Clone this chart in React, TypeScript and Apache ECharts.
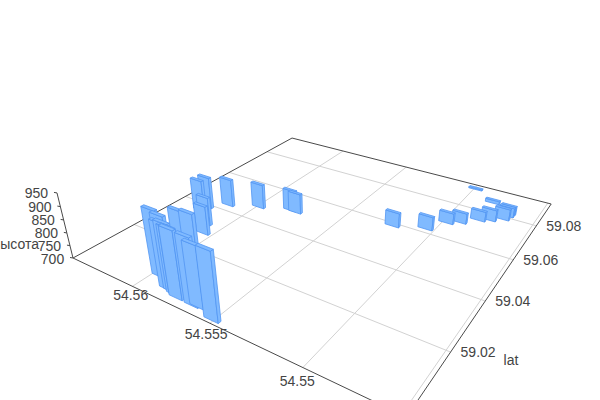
import React, { useEffect, useRef } from "react";
import * as echarts from "echarts";

// Data
const lngs = [54.5551, 54.5563, 54.5566, 54.5576, 54.5585, 54.5582, 54.5579, 54.5577, 54.5589, 54.5596, 54.5585, 54.5579, 54.5606, 54.5612, 54.5626, 54.5625, 54.5616, 54.5599, 54.5581, 54.5577, 54.5522, 54.5505, 54.5498, 54.5492, 54.5484, 54.5479, 54.5473, 54.5472, 54.5472, 54.5484, 54.5499];
const lats = [59.0009, 59.0026, 59.0023, 59.0024, 59.0036, 59.0035, 59.003, 59.0028, 59.0056, 59.0063, 59.0093, 59.0098, 59.0269, 59.031, 59.036, 59.0385, 59.0428, 59.0467, 59.0502, 59.05, 59.0583, 59.0618, 59.068, 59.0702, 59.0742, 59.0759, 59.0784, 59.0808, 59.0823, 59.0862, 59.0919];
const heights = [950, 928, 949, 950, 945, 950, 945, 948, 948, 950, 950, 950, 816, 815, 830, 831, 814, 801, 787, 783, 759, 755, 745, 743, 741, 747, 747, 739, 735, 713, 705];

const lngTicks = [54.55, 54.555, 54.56];
const latTicks = [59.02, 59.04, 59.06, 59.08];
const heightTicks = [700, 750, 800, 850, 900, 950];
const lngEdgeLine = 54.5456;

// Axis extents
const LNG_MAX = 54.5645;
const LNG_PER_S = 0.0644;
const LAT_MIN = 59;
const LAT_PER_T = 0.2099;
const Z_MIN = 700;
const Z_PER_Q = -250 / 0.0602;
const LNG_END = 54.5454;
const LAT_END = 59.095;
const Z_END = 950;

// Camera: vanishing points of the three axes, and the corner of the box
const VP_LNG = [-718, -119];
const VP_LAT = [776, -127];
const VP_Z = [323, 1274];
const ORIGIN = [73, 258];

function project(lng: number, lat: number, z: number) {
  const s = (lng - LNG_MAX) / LNG_PER_S;
  const t = (lat - LAT_MIN) / LAT_PER_T;
  const q = (z - Z_MIN) / Z_PER_Q;
  const w = 1 + s + t + q;
  return [
    (ORIGIN[0] + s * VP_LNG[0] + t * VP_LAT[0] + q * VP_Z[0]) / w,
    (ORIGIN[1] + s * VP_LNG[1] + t * VP_LAT[1] + q * VP_Z[1]) / w,
    w,
  ];
}

const BAR_LNG = 0.00085;
const BAR_LAT = 0.0009;
const FILL = "#80baff";
const EDGE = "#5296f2";
const AXIS = "#4a4a4a";
const GRID = "#d2d2d2";
const TEXT = "#444444";
const FONT = '14px "Liberation Sans", Arial, sans-serif';

function line(a: number[], b: number[], color: string) {
  return {
    type: "line",
    z: 0,
    silent: true,
    shape: { x1: a[0], y1: a[1], x2: b[0], y2: b[1] },
    style: { stroke: color, lineWidth: 1 },
  };
}

function label(text: string, x: number, y: number, align = "center") {
  return {
    type: "text",
    z: 10,
    silent: true,
    style: { text, x, y, fill: TEXT, font: FONT, textAlign: align, textVerticalAlign: "middle" },
  };
}

function buildGraphic() {
  const els: any[] = [];
  // floor grid
  [...lngTicks, lngEdgeLine].forEach((v) =>
    els.push(line(project(v, LAT_MIN, Z_MIN), project(v, LAT_END, Z_MIN), GRID))
  );
  latTicks.forEach((v) =>
    els.push(line(project(LNG_END, v, Z_MIN), project(LNG_MAX, v, Z_MIN), GRID))
  );
  // box lines
  const a = project(LNG_MAX, LAT_MIN, Z_MIN);
  const b = project(LNG_MAX, LAT_END, Z_MIN);
  const c = project(LNG_END, LAT_END, Z_MIN);
  const d = project(LNG_END, LAT_MIN, Z_MIN);
  els.push(line(a, b, AXIS), line(b, c, AXIS), line(c, d, AXIS), line(d, a, AXIS));
  els.push(line(a, project(LNG_MAX, LAT_MIN, Z_END), AXIS));
  // tick labels
  heightTicks.forEach((v) => {
    const p = project(LNG_MAX, LAT_MIN, v);
    els.push(line(p, [p[0] - 3, p[1] - 0.5], AXIS));
    els.push(label(String(v), p[0] - 20.5, p[1] + 0.5));
  });
  lngTicks.forEach((v) => {
    const p = project(v, LAT_MIN, Z_MIN);
    els.push(label(String(v), p[0] - 25 * (1 - p[2]), p[1] + 9 + (0.93 - p[2]) * 26));
  });
  latTicks.forEach((v) => {
    const p = project(LNG_END, v, Z_MIN);
    els.push(label(String(v), p[0] + 27.5, p[1]));
  });
  els.push(label("высота", 39, 244, "right"));
  els.push(label("lat", 511, 360));
  return els;
}

function renderBar(_params: any, api: any) {
  const lng = api.value(0);
  const lat = api.value(1);
  const h = api.value(2);
  const lo = lng - BAR_LNG / 2;
  const hi = lng + BAR_LNG / 2;
  const near = lat;
  const far = lat + BAR_LAT;
  const pts = (corners: number[][]) =>
    corners.map((k) => {
      const p = project(k[0], k[1], k[2]);
      return [p[0], p[1]];
    });
  const style = { fill: FILL, stroke: EDGE, lineWidth: 0.8, lineJoin: "round" };
  const poly = (corners: number[][]) => ({
    type: "polygon",
    shape: { points: pts(corners) },
    style,
  });
  return {
    type: "group",
    children: [
      poly([[hi, near, Z_MIN], [lo, near, Z_MIN], [lo, near, h], [hi, near, h]]),
      poly([[lo, near, Z_MIN], [lo, far, Z_MIN], [lo, far, h], [lo, near, h]]),
      poly([[hi, near, h], [lo, near, h], [lo, far, h], [hi, far, h]]),
    ],
  };
}

export default function App() {
  const ref = useRef<HTMLDivElement>(null);
  useEffect(() => {
    const chart = echarts.init(ref.current!, undefined, { renderer: "svg" });
    const rows = lngs
      .map((lng, i) => [lng, lats[i], heights[i]])
      .sort((p, r) => project(r[0], r[1], Z_MIN)[2] - project(p[0], p[1], Z_MIN)[2]);
    chart.setOption({
      animation: false,
      graphic: { elements: buildGraphic() },
      series: [
        {
          type: "custom",
          coordinateSystem: "none",
          z: 5,
          silent: true,
          renderItem: renderBar,
          data: rows,
        },
      ],
    });
    return () => chart.dispose();
  }, []);
  return (
    <div
      ref={ref}
      style={{ position: "fixed", left: 0, top: 0, width: 600, height: 400, background: "#fff" }}
    />
  );
}
